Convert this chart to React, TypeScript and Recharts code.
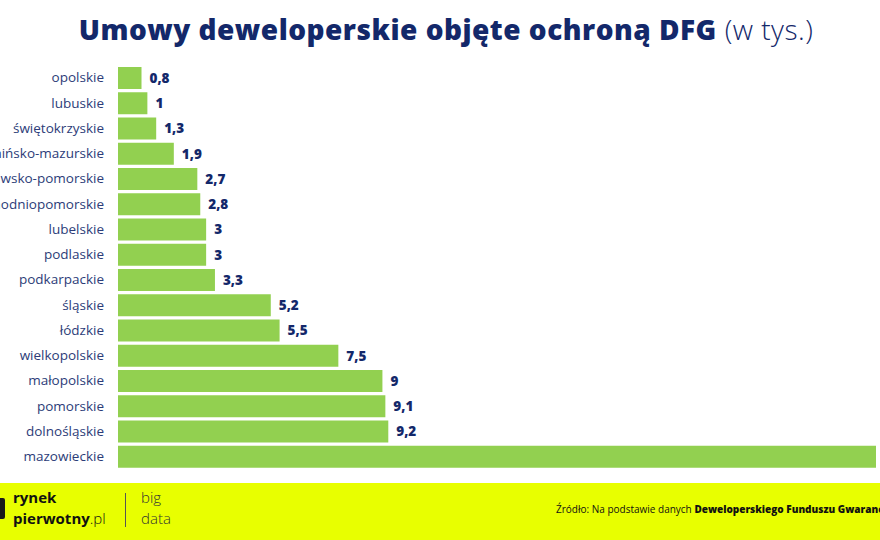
import { BarChart, Bar, XAxis, YAxis, LabelList } from 'recharts';

const regions = [
  'opolskie',
  'lubuskie',
  'świętokrzyskie',
  'warmińsko-mazurskie',
  'kujawsko-pomorskie',
  'zachodniopomorskie',
  'lubelskie',
  'podlaskie',
  'podkarpackie',
  'śląskie',
  'łódzkie',
  'wielkopolskie',
  'małopolskie',
  'pomorskie',
  'dolnośląskie',
  'mazowieckie',
];

// umowy w tysiącach
const contracts = [0.8, 1, 1.3, 1.9, 2.7, 2.8, 3, 3, 3.3, 5.2, 5.5, 7.5, 9, 9.1, 9.2, 25.8];

const data = regions.map((name, i) => ({ name, value: contracts[i] }));

const NAVY = '#13286a';
const GREEN = '#92d050';
const FONT = '"Open Sans", "Noto Sans", sans-serif';

const fmt = (v: any) => String(v).replace('.', ',');

const logoLine = { position: 'absolute' as const, fontSize: 15, lineHeight: '17px', whiteSpace: 'nowrap' as const };

export default function App() {
  return (
    <div
      style={{
        position: 'absolute',
        left: 0,
        top: 0,
        width: 880,
        height: 540,
        overflow: 'hidden',
        background: '#ffffff',
        fontFamily: FONT,
      }}
    >
      {/* tytuł */}
      <div
        style={{
          position: 'absolute',
          left: 0,
          top: 10,
          width: 892,
          textAlign: 'center',
          fontSize: 28,
          color: NAVY,
          letterSpacing: 0.5,
          whiteSpace: 'nowrap',
        }}
      >
        <span style={{ fontWeight: 800 }}>Umowy deweloperskie objęte ochroną DFG</span>
        <span style={{ fontWeight: 300 }}> (w tys.)</span>
      </div>

      <div style={{ position: 'absolute', left: -60, top: 65 }}>
        <BarChart
          width={996}
          height={404}
          data={data}
          layout="vertical"
          margin={{ top: 0, right: 60, bottom: 0, left: 0 }}
          barSize={22}
        >
          <XAxis type="number" hide domain={[0, 'dataMax']} />
          <YAxis
            type="category"
            dataKey="name"
            width={178}
            axisLine={false}
            tickLine={false}
            tickSize={6}
            tickMargin={8}
            interval={0}
            tick={{ fill: '#2c3c78', fontSize: 13.5, fontFamily: FONT }}
          />
          <Bar dataKey="value" fill={GREEN} isAnimationActive={false}>
            <LabelList
              dataKey="value"
              position="right"
              offset={8}
              formatter={fmt}
              style={{ fill: NAVY, fontSize: 13.5, fontWeight: 800, fontFamily: FONT }}
            />
          </Bar>
        </BarChart>
      </div>

      {/* stopka */}
      <div
        style={{
          position: 'absolute',
          left: 0,
          top: 483,
          width: 880,
          height: 57,
          background: '#e8ff00',
          color: '#111',
        }}
      >
        <div style={{ position: 'absolute', left: -4, top: 15, width: 9, height: 21, background: '#1a1a1a', borderRadius: 2 }} />
        <div style={{ ...logoLine, left: 13, top: 6, fontWeight: 700 }}>rynek</div>
        <div style={{ ...logoLine, left: 13, top: 27, fontWeight: 700 }}>
          pierwotny<span style={{ fontWeight: 300 }}>.pl</span>
        </div>
        <div style={{ position: 'absolute', left: 125, top: 10, width: 1, height: 34, background: '#555' }} />
        <div style={{ ...logoLine, left: 141, top: 6, color: '#333', fontWeight: 300 }}>big</div>
        <div style={{ ...logoLine, left: 141, top: 27, color: '#333', fontWeight: 300 }}>data</div>
        <div
          style={{
            position: 'absolute',
            left: 556,
            top: 19,
            fontSize: 10,
            whiteSpace: 'nowrap',
          }}
        >
          Źródło: Na podstawie danych{' '}
          <span style={{ fontWeight: 800 }}>Deweloperskiego Funduszu Gwarancyjnego</span>
        </div>
      </div>
    </div>
  );
}
